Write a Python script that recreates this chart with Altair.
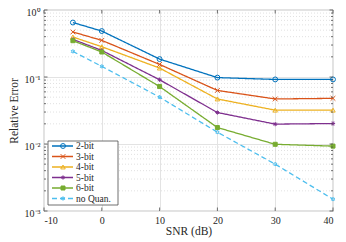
import math
import altair as alt
import pandas as pd

snr = [-5, 0, 10, 20, 30, 40]
series = ["2-bit", "3-bit", "4-bit", "5-bit", "6-bit", "no Quan."]
err_2bit = [0.65, 0.485, 0.185, 0.098, 0.092, 0.092]
err_3bit = [0.47, 0.352, 0.154, 0.063, 0.047, 0.048]
err_4bit = [0.395, 0.283, 0.136, 0.047, 0.032, 0.032]
err_5bit = [0.364, 0.249, 0.091, 0.0295, 0.0198, 0.0202]
err_6bit = [0.348, 0.236, 0.072, 0.0176, 0.0099, 0.0093]
err_noq = [0.241, 0.144, 0.050, 0.015, 0.005, 0.0015]
colors = ["#0072BD", "#D95319", "#EDB120", "#7E2F8E", "#77AC30", "#4DBEEE"]
x_ticks = [-10, 0, 10, 20, 30, 40]
y_major = [0.001, 0.01, 0.1, 1]
y_tick_labels = ["10\u207b\u00b3", "10\u207b\u00b2", "10\u207b\u00b9", "10\u2070"]
y_minor = [m * 10.0 ** k for k in (-3, -2, -1) for m in range(2, 10)]

W, H = 289, 201

# marker shapes
star_pts = []
for i in range(12):
    r = 1.0 if i % 2 == 0 else 0.58
    a = math.radians(-90 + 30 * i)
    star_pts.append(f"{r*math.cos(a):.3f},{r*math.sin(a):.3f}")
hexagram = "M" + "L".join(star_pts) + "Z"
shapes = [
    "circle",
    "M-1,-1L1,1M-1,1L1,-1",
    "triangle-up",
    "M-1,0L1,0M0,-1L0,1M-0.7,-0.7L0.7,0.7M-0.7,0.7L0.7,-0.7",
    "square",
    hexagram,
]
fills = ["transparent", "transparent", "transparent", colors[3], colors[4], "transparent"]
sizes = [24, 14, 28, 16, 14, 36]
dashes = [[1, 0]] * 5 + [[5, 3]]

rows = []
for name, vals in zip(series, [err_2bit, err_3bit, err_4bit, err_5bit, err_6bit, err_noq]):
    for s, v in zip(snr, vals):
        rows.append({"series": name, "snr": s, "err": v})
df = pd.DataFrame(rows)

color_s = alt.Scale(domain=series, range=colors)
shape_s = alt.Scale(domain=series, range=shapes)
fill_s = alt.Scale(domain=series, range=fills)
size_s = alt.Scale(domain=series, range=sizes)
dash_s = alt.Scale(domain=series, range=dashes)

xscale = alt.Scale(domain=[-10, 40], nice=False, zero=False)
yscale = alt.Scale(type="log", domain=[0.001, 1], nice=False)

label_expr = " : ".join(
    f"datum.value > {v * 0.5} ? '{t}'" for v, t in zip(reversed(y_major), reversed(y_tick_labels))
) + " : ''"

axis_col = "#4d4d4d"
txt_col = "#262626"

x_enc = alt.X("snr:Q", scale=xscale,
              axis=alt.Axis(values=x_ticks, labelExpr="'' + datum.value", title="SNR (dB)",
                            grid=True, gridColor="#e3e3e3",
                            ticks=False, labelPadding=4, labelFontSize=10, titleFontSize=11.5,
                            titleFontWeight="normal", titlePadding=0, domain=False,
                            labelColor=txt_col, titleColor=txt_col))
y_enc = alt.Y("err:Q", scale=yscale,
              axis=alt.Axis(values=y_major, labelExpr=label_expr, title="Relative Error",
                            grid=True, gridColor="#e3e3e3", ticks=False, labelPadding=4,
                            labelOffset=2.5,
                            labelFontSize=10, titleFontSize=11.5, titleFontWeight="normal",
                            titlePadding=5, domain=False,
                            labelColor=txt_col, titleColor=txt_col))

minor_df = pd.DataFrame({"err": y_minor})
major_df = pd.DataFrame({"err": y_major})
xt_df = pd.DataFrame({"snr": x_ticks})

minor_grid = alt.Chart(minor_df).mark_rule(color="#d9d9d9", strokeDash=[1, 2], strokeWidth=0.8).encode(
    y=alt.Y("err:Q", scale=yscale))

lines = alt.Chart(df).mark_line(strokeWidth=1.3).encode(
    x=x_enc, y=y_enc,
    color=alt.Color("series:N", scale=color_s, legend=None),
    strokeDash=alt.StrokeDash("series:N", scale=dash_s, legend=None),
    detail="series:N",
    order="snr:Q",
)
points = alt.Chart(df).mark_point(filled=False, strokeWidth=1, opacity=1).encode(
    x="snr:Q", y=alt.Y("err:Q", scale=yscale),
    color=alt.Color("series:N", scale=color_s, legend=None),
    shape=alt.Shape("series:N", scale=shape_s, legend=None),
    fill=alt.Fill("series:N", scale=fill_s, legend=None),
    size=alt.Size("series:N", scale=size_s, legend=None),
)

tick_style = dict(color=axis_col, strokeWidth=0.8)
minor_l = alt.Chart(minor_df).mark_rule(**tick_style).encode(
    y=alt.Y("err:Q", scale=yscale), x=alt.value(0), x2=alt.value(2))
minor_r = alt.Chart(minor_df).mark_rule(**tick_style).encode(
    y=alt.Y("err:Q", scale=yscale), x=alt.value(W - 2), x2=alt.value(W))
major_l = alt.Chart(major_df).mark_rule(**tick_style).encode(
    y=alt.Y("err:Q", scale=yscale), x=alt.value(0), x2=alt.value(3.5))
major_r = alt.Chart(major_df).mark_rule(**tick_style).encode(
    y=alt.Y("err:Q", scale=yscale), x=alt.value(W - 3.5), x2=alt.value(W))
xt_b = alt.Chart(xt_df).mark_rule(**tick_style).encode(
    x=alt.X("snr:Q", scale=xscale), y=alt.value(H), y2=alt.value(H - 3.5))
xt_t = alt.Chart(xt_df).mark_rule(**tick_style).encode(
    x=alt.X("snr:Q", scale=xscale), y=alt.value(0), y2=alt.value(3.5))

main = alt.layer(minor_grid, lines, points, minor_l, minor_r, major_l, major_r, xt_b, xt_t)

# legend
leg_df = pd.DataFrame({"series": series})
leg_y = alt.Scale(type="point", domain=series, range=[136, 188.5], padding=0)
box = alt.Chart(pd.DataFrame({"a": [0]})).mark_rect(fill="white", stroke=axis_col, strokeWidth=0.8).encode(
    x=alt.value(4), x2=alt.value(74), y=alt.value(131), y2=alt.value(195))
leg_lines = alt.Chart(leg_df).mark_rule(strokeWidth=1.3).encode(
    y=alt.Y("series:N", scale=leg_y, axis=None), x=alt.value(8), x2=alt.value(29),
    color=alt.Color("series:N", scale=color_s, legend=None),
    strokeDash=alt.StrokeDash("series:N", scale=dash_s, legend=None))
leg_pts = alt.Chart(leg_df).mark_point(filled=False, strokeWidth=1, opacity=1).encode(
    y=alt.Y("series:N", scale=leg_y, axis=None), x=alt.value(19),
    color=alt.Color("series:N", scale=color_s, legend=None),
    shape=alt.Shape("series:N", scale=shape_s, legend=None),
    fill=alt.Fill("series:N", scale=fill_s, legend=None),
    size=alt.Size("series:N", scale=size_s, legend=None))
leg_txt = alt.Chart(leg_df).mark_text(align="left", baseline="middle", fontSize=9.5, color=txt_col,
                                      font="Liberation Serif").encode(
    y=alt.Y("series:N", scale=leg_y, axis=None), x=alt.value(32), text="series:N")
legend = alt.layer(box, leg_lines, leg_pts, leg_txt)

chart = alt.layer(main, legend).resolve_scale(y="independent").properties(
    width=W, height=H,
    autosize=alt.AutoSizeParams(type="none"),
    padding={"left": 36, "top": 2, "right": 5, "bottom": 29},
).configure(font="Liberation Serif").configure_view(stroke=axis_col, strokeWidth=0.8)

chart.save("out.html", embed_options={"renderer": "svg", "actions": False})
